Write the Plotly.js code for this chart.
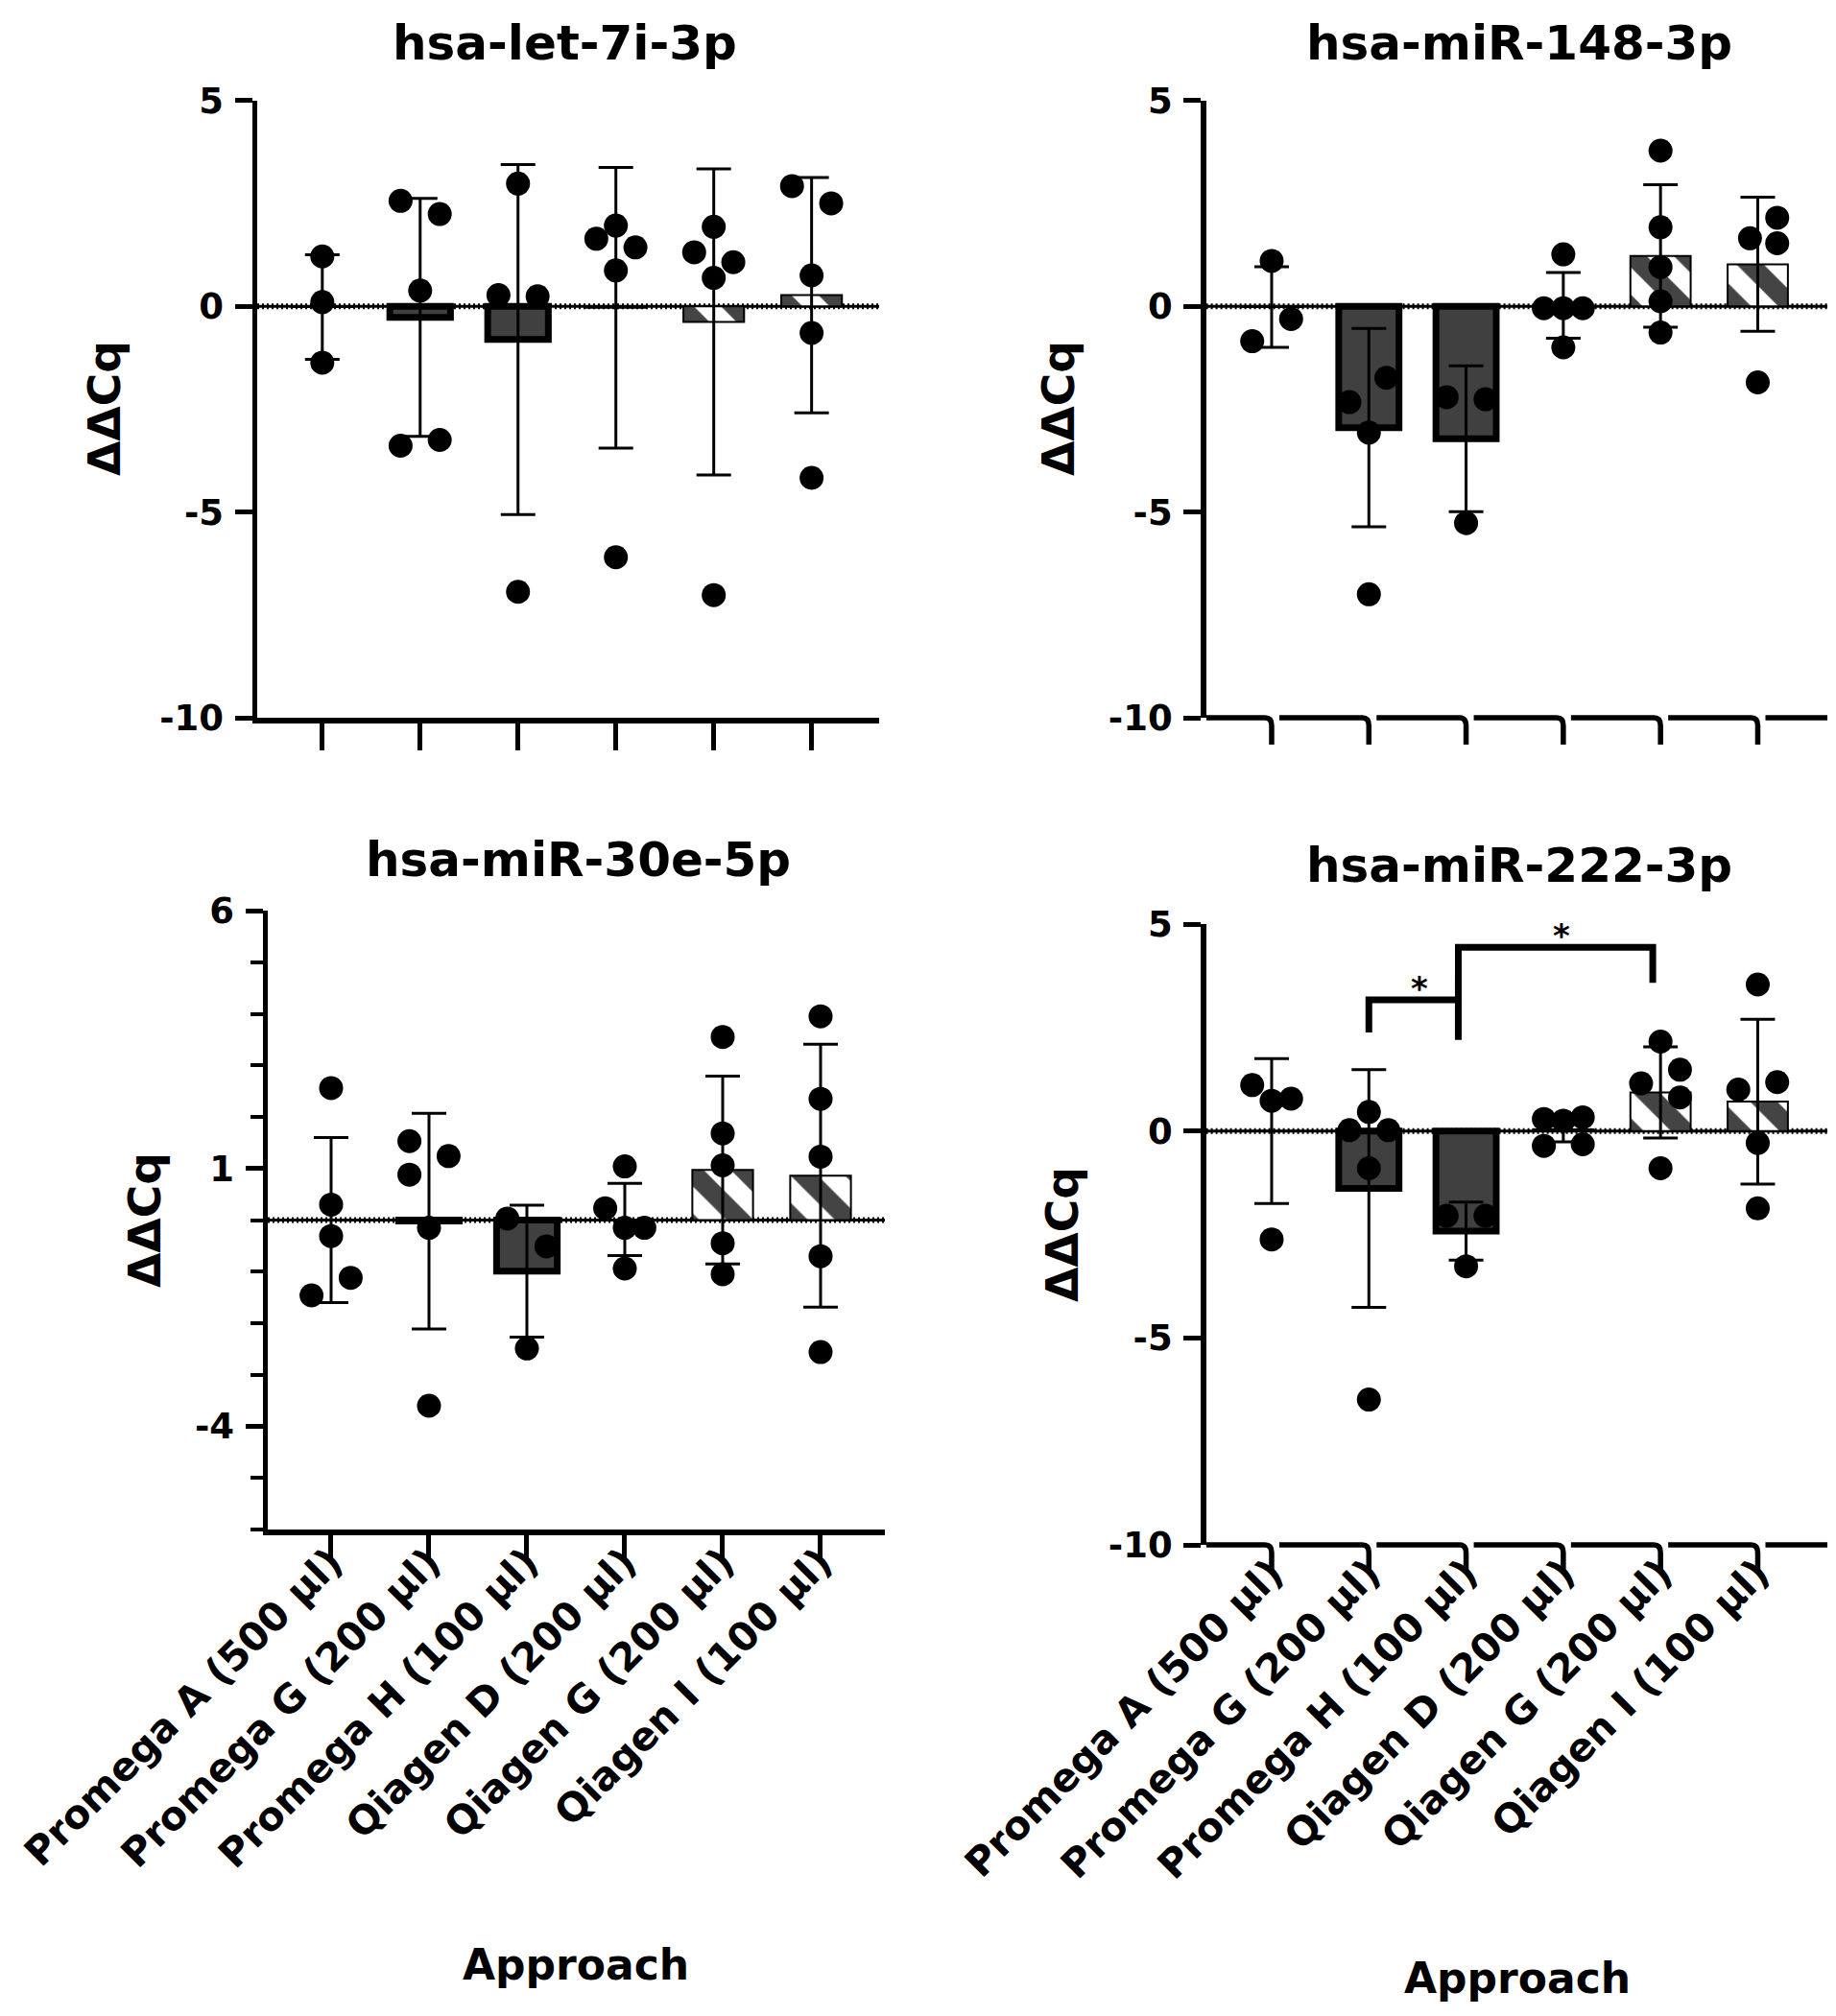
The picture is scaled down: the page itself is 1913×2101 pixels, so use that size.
<!DOCTYPE html>
<html>
<head>
<meta charset="utf-8">
<script src="https://cdn.plot.ly/plotly-3.0.1.min.js"></script>
<style>
  body { margin: 0; background: #fff; }
  #chart { width: 1913px; height: 2101px; }
</style>
</head>
<body>
<div id="chart"></div>
<script>
// x categories, shared by all four panels
const approaches = ['Promega A (500 µl)', 'Promega G (200 µl)', 'Promega H (100 µl)',
                    'Qiagen D (200 µl)', 'Qiagen G (200 µl)', 'Qiagen I (100 µl)'];

// hsa-let-7i-3p : bar = mean, whisker = SD, dots = replicates
const let7iMean = [-0.02, -0.27, -0.81, -0.04, -0.38, 0.27];
const let7iSD = [1.27, 2.89, 4.25, 3.41, 3.72, 2.86];
const let7iGroup = [0,0,0, 1,1,1,1,1, 2,2,2,2, 3,3,3,3,3, 4,4,4,4,4, 5,5,5,5,5];
const let7iJitter = [0,0,0, -0.2,0.2,0,-0.2,0.2, 0,-0.2,0.2,0, -0.2,0,0.2,0,0, -0.2,0,0.2,0,0, -0.2,0.2,0,0,0];
const let7iValue = [1.21,0.1,-1.37, 2.56,2.24,0.38,-3.39,-3.25, 2.98,0.27,0.24,-6.94,
                    1.64,1.96,1.43,0.87,-6.1, 1.31,1.93,1.07,0.69,-7.02, 2.92,2.5,0.75,-0.65,-4.17];

// hsa-miR-148-3p
const mir148Mean = [-0.02, -2.95, -3.22, 0.02, 1.22, 1.02];
const mir148SD = [0.98, 2.41, 1.77, 0.8, 1.73, 1.63];
const mir148Group = [0,0,0, 1,1,1,1, 2,2,2, 3,3,3,3,3, 4,4,4,4,4, 5,5,5,5];
const mir148Jitter = [-0.2,0,0.2, -0.2,0.18,0,0, -0.2,0.2,0, -0.2,0,0.2,0,0, 0,0,0,0,0, -0.08,0.2,0.2,0];
const mir148Value = [-0.85,1.1,-0.31, -2.33,-1.74,-3.07,-7.0, -2.21,-2.26,-5.27,
                     -0.05,-0.05,-0.05,1.26,-1.0, 3.78,1.92,0.95,0.12,-0.64, 1.65,2.15,1.53,-1.85];

// hsa-miR-30e-5p
const mir30eMean = [0, -0.02, -0.99, 0.01, 0.97, 0.86];
const mir30eSD = [1.6, 2.09, 1.28, 0.7, 1.82, 2.55];
const mir30eGroup = [0,0,0,0,0, 1,1,1,1,1, 2,2,2, 3,3,3,3,3, 4,4,4,4,4, 5,5,5,5,5];
const mir30eJitter = [0,0,0,-0.2,0.2, -0.2,-0.2,0.2,0,0, -0.2,0.2,0, -0.2,0,0.2,0,0, 0,0,0,0,0, 0,0,0,0,0];
const mir30eValue = [2.56,0.3,-0.31,-1.46,-1.12, 1.53,0.88,1.24,-0.15,-3.6, 0.03,-0.51,-2.49,
                     0.23,1.04,-0.15,-0.15,-0.94, 3.55,1.68,1.06,-0.45,-1.05, 3.95,2.35,1.23,-0.7,-2.56];

// hsa-miR-222-3p
const mir222Mean = [0.0, -1.39, -2.42, 0.04, 0.93, 0.71];
const mir222SD = [1.75, 2.87, 0.7, 0.3, 1.1, 1.99];
const mir222Group = [0,0,0,0, 1,1,1,1,1, 2,2,2, 3,3,3,3,3, 4,4,4,4,4, 5,5,5,5,5];
const mir222Jitter = [-0.2,0,0.2,0, -0.2,0,0.2,0,0, -0.2,0.2,0, -0.2,0,0.2,-0.2,0.2, 0,0.2,-0.2,0.2,0, 0,0.2,-0.2,0,0];
const mir222Value = [1.11,0.73,0.78,-2.62, 0.02,0.46,0.02,-0.9,-6.49, -2.05,-2.05,-3.27,
                     0.29,0.25,0.33,-0.36,-0.32, 2.16,1.48,1.15,0.81,-0.9, 3.54,1.18,1.0,-0.29,-1.87];

// significance brackets in hsa-miR-222-3p (x in category units, y in ΔΔCq)
const sigFrom = [1, 1.92];
const sigTo = [1.92, 3.92];
const sigTop = [3.17, 4.44];
const sigFromEnd = [2.38, 3.17];
const sigToEnd = [2.2, 3.58];
const sigLabel = ['*', '*'];

// bar styles per approach
const barFill = ['white', '#404040', '#404040', 'white', 'white', 'white'];
const barEdge = [2, 7, 7, 2, 2, 2];
const barHatch = ['', '', '', '', '\\', '\\'];

const W = 1913, H = 2101;
const idx = approaches.map((_, i) => i);

// panel boxes in page pixels
const panels = [
  { name: 'hsa-let-7i-3p', mean: let7iMean, sd: let7iSD, group: let7iGroup, jitter: let7iJitter, value: let7iValue,
    left: 268, right: 916, top: 104.7, bottom: 748, xrange: [-0.665, 5.69], yrange: [-10, 5], ytick: [-10, -5, 0, 5],
    hooked: false, labels: false, title: [588, 45], ytitle: [109, 426] },
  { name: 'hsa-miR-148-3p', mean: mir148Mean, sd: mir148SD, group: mir148Group, jitter: mir148Jitter, value: mir148Value,
    left: 1256.6, right: 1904, top: 104.7, bottom: 748, xrange: [-0.675, 5.716], yrange: [-10, 5], ytick: [-10, -5, 0, 5],
    hooked: true, labels: false, title: [1583, 45], ytitle: [1103, 426] },
  { name: 'hsa-miR-30e-5p', mean: mir30eMean, sd: mir30eSD, group: mir30eGroup, jitter: mir30eJitter, value: mir30eValue,
    left: 279, right: 922, top: 949, bottom: 1594, xrange: [-0.647, 5.657], yrange: [-6, 6], ytick: [-4, 1, 6], minor: true,
    hooked: false, labels: true, title: [602, 896], ytitle: [150, 1272], xtitle: [600, 2047] },
  { name: 'hsa-miR-222-3p', mean: mir222Mean, sd: mir222SD, group: mir222Group, jitter: mir222Jitter, value: mir222Value,
    left: 1256.6, right: 1904, top: 963, bottom: 1610, xrange: [-0.675, 5.716], yrange: [-10, 5], ytick: [-10, -5, 0, 5],
    hooked: true, labels: true, title: [1583, 902], ytitle: [1106, 1287], xtitle: [1581, 2061], sig: true }
];

const px = v => v / W;
const py = v => 1 - v / H;

const traces = [], shapes = [], annotations = [];
const layout = {
  width: W, height: H,
  margin: { l: 0, r: 0, t: 0, b: 0 },
  showlegend: false,
  paper_bgcolor: 'white',
  plot_bgcolor: 'rgba(0,0,0,0)',
  font: { family: 'DejaVu Sans', color: 'black' }
};

function boldFont(size) {
  return { family: 'DejaVu Sans', size: size, color: 'black', weight: 'bold' };
}

panels.forEach((p, k) => {
  const n = k === 0 ? '' : String(k + 1);
  const xa = 'x' + n, ya = 'y' + n;

  layout['xaxis' + n] = {
    anchor: ya,
    domain: [px(p.left), px(p.right)],
    range: p.xrange,
    tickmode: 'array', tickvals: idx, ticktext: approaches,
    showticklabels: p.labels,
    ticklabeloverflow: 'allow',
    tickangle: -45,
    tickfont: boldFont(41),
    ticklabelstandoff: -40,
    ticks: 'outside', ticklen: 28, tickwidth: 5,
    tickcolor: p.hooked ? 'rgba(0,0,0,0)' : 'black',
    showline: !p.hooked, linewidth: 5.5, linecolor: 'black',
    showgrid: false, zeroline: false, fixedrange: true
  };

  const yax = {
    anchor: xa,
    domain: [py(p.bottom), py(p.top)],
    range: p.yrange,
    tickmode: 'array', tickvals: p.ytick, ticktext: p.ytick.map(String),
    tickfont: boldFont(37),
    ticks: 'outside', ticklen: 18, tickwidth: 5, tickcolor: 'black',
    ticklabelstandoff: 4,
    showline: true, linewidth: 5.5, linecolor: 'black',
    showgrid: false, zeroline: false, fixedrange: true
  };
  if (p.minor) {
    yax.minor = { tickmode: 'linear', tick0: 0, dtick: 1, ticks: 'outside', ticklen: 13, tickwidth: 4, tickcolor: 'black', showgrid: false };
  }
  layout['yaxis' + n] = yax;

  traces.push({
    type: 'bar', x: idx, y: p.mean, xaxis: xa, yaxis: ya, width: 0.62,
    marker: {
      color: barFill,
      line: { color: 'black', width: barEdge },
      pattern: { shape: barHatch, fgcolor: 'black', fgopacity: 1, size: 40, solidity: 0.5, fillmode: 'overlay' }
    },
    error_y: { type: 'data', array: p.sd, visible: true, color: 'black', thickness: 3, width: 18 },
    hoverinfo: 'skip'
  });

  traces.push({
    type: 'scatter', mode: 'markers',
    x: p.group.map((g, i) => g + p.jitter[i]), y: p.value,
    xaxis: xa, yaxis: ya,
    marker: { color: 'black', size: 25, line: { width: 0 } },
    hoverinfo: 'skip'
  });

  // dotted reference line at 0
  shapes.push({ type: 'line', xref: xa + ' domain', x0: 0, x1: 1, yref: ya, y0: 0, y1: 0,
    line: { color: 'black', width: 3 }, layer: 'below' });
  shapes.push({ type: 'line', xref: xa + ' domain', x0: 0, x1: 1, yref: ya, y0: 0, y1: 0,
    line: { color: 'black', width: 6, dash: '2px,3px' }, layer: 'below' });

  // broken x axis with hooked ticks (right hand panels); x in category units, y on the page
  if (p.hooked) {
    const ppu = (p.right - p.left) / (p.xrange[1] - p.xrange[0]);
    const r = 7 / ppu, gap = 8 / ppu;
    const yLine = py(p.bottom), yBend = py(p.bottom + 8), yEnd = py(p.bottom + 28);
    idx.forEach(i => {
      const x0 = i === 0 ? p.xrange[0] : i - 1 + gap;
      shapes.push({
        type: 'path', xref: xa, yref: 'paper',
        path: 'M ' + x0 + ',' + yLine + ' L ' + (i - r) + ',' + yLine +
              ' Q ' + i + ',' + yLine + ' ' + i + ',' + yBend + ' L ' + i + ',' + yEnd,
        line: { color: 'black', width: 5.5 }, fillcolor: 'rgba(0,0,0,0)', layer: 'above'
      });
    });
    const last = idx[idx.length - 1];
    shapes.push({
      type: 'path', xref: xa, yref: 'paper',
      path: 'M ' + (last + gap) + ',' + yLine + ' L ' + p.xrange[1] + ',' + yLine,
      line: { color: 'black', width: 5.5 }, fillcolor: 'rgba(0,0,0,0)', layer: 'above'
    });
  }

  if (p.sig) {
    sigFrom.forEach((x0, j) => {
      const x1 = sigTo[j];
      shapes.push({
        type: 'path', xref: xa, yref: ya,
        path: 'M ' + x0 + ',' + sigFromEnd[j] + ' L ' + x0 + ',' + sigTop[j] +
              ' L ' + x1 + ',' + sigTop[j] + ' L ' + x1 + ',' + sigToEnd[j],
        line: { color: 'black', width: 7 }, fillcolor: 'rgba(0,0,0,0)', layer: 'above'
      });
      annotations.push({ xref: xa, yref: ya, x: (x0 + x1) / 2 + 0.06, y: sigTop[j], text: sigLabel[j],
        showarrow: false, yanchor: 'middle', yshift: 12, font: boldFont(34) });
    });
  }

  annotations.push({ xref: 'paper', yref: 'paper', x: px(p.title[0]), y: py(p.title[1]), text: p.name,
    showarrow: false, xanchor: 'center', yanchor: 'middle', font: boldFont(50) });
  annotations.push({ xref: 'paper', yref: 'paper', x: px(p.ytitle[0]), y: py(p.ytitle[1]), text: 'ΔΔCq',
    textangle: -90, showarrow: false, xanchor: 'center', yanchor: 'middle', font: boldFont(47) });
  if (p.xtitle) {
    annotations.push({ xref: 'paper', yref: 'paper', x: px(p.xtitle[0]), y: py(p.xtitle[1]), text: 'Approach',
      showarrow: false, xanchor: 'center', yanchor: 'middle', font: boldFont(44) });
  }
});

layout.shapes = shapes;
layout.annotations = annotations;

Plotly.newPlot('chart', traces, layout, { displayModeBar: false, staticPlot: true });
</script>
</body>
</html>
